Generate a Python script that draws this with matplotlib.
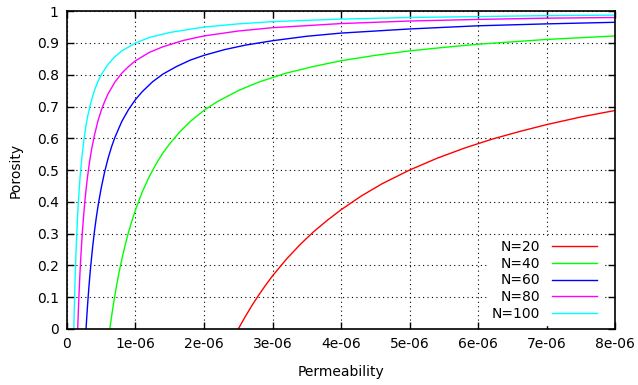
import matplotlib.pyplot as plt

# permeability samples (x1e-6) and porosity
k20 = [2.5, 2.6, 2.7, 2.8, 2.9, 3.0, 3.2, 3.4, 3.6, 3.8, 4.0, 4.3, 4.6, 5.0, 5.4, 5.8, 6.2, 6.6, 7.0, 7.5, 8.0]
p20 = [0.0, 0.038, 0.074, 0.107, 0.138, 0.167, 0.219, 0.265, 0.306, 0.342, 0.375, 0.419, 0.457,
       0.5, 0.537, 0.569, 0.597, 0.621, 0.643, 0.667, 0.6875]

k40 = [0.625, 0.64, 0.66, 0.68, 0.7, 0.73, 0.76, 0.8, 0.85, 0.9, 0.95, 1.0, 1.1, 1.2, 1.3, 1.4, 1.5,
       1.65, 1.8, 2.0, 2.2, 2.5, 2.8, 3.2, 3.6, 4.0, 4.5, 5.0, 5.5, 6.0, 7.0, 8.0]
p40 = [0.0, 0.023, 0.053, 0.081, 0.107, 0.144, 0.178, 0.219, 0.265, 0.306, 0.342, 0.375, 0.432,
       0.479, 0.519, 0.554, 0.583, 0.621, 0.653, 0.688, 0.716, 0.75, 0.777, 0.805, 0.826, 0.844,
       0.861, 0.875, 0.886, 0.896, 0.911, 0.922]

k60 = [0.278, 0.285, 0.295, 0.305, 0.32, 0.335, 0.35, 0.375, 0.4, 0.43, 0.46, 0.5, 0.55, 0.6, 0.65,
       0.7, 0.8, 0.9, 1.0, 1.1, 1.25, 1.4, 1.6, 1.8, 2.0, 2.3, 2.6, 3.0, 3.5, 4.0, 5.0, 6.0, 7.0, 8.0]
p60 = [0.0, 0.025, 0.058, 0.089, 0.132, 0.171, 0.206, 0.259, 0.306, 0.354, 0.396, 0.444, 0.495,
       0.537, 0.573, 0.603, 0.653, 0.691, 0.722, 0.747, 0.778, 0.802, 0.826, 0.846, 0.861, 0.879,
       0.893, 0.907, 0.921, 0.931, 0.944, 0.954, 0.960, 0.965]

k80 = [0.156, 0.16, 0.165, 0.17, 0.175, 0.18, 0.19, 0.2, 0.21, 0.225, 0.24, 0.26, 0.28, 0.3, 0.33,
       0.36, 0.4, 0.45, 0.5, 0.55, 0.6, 0.7, 0.8, 0.9, 1.0, 1.2, 1.4, 1.7, 2.0, 2.5, 3.0, 4.0, 5.0,
       6.0, 7.0, 8.0]
p80 = [0.0, 0.023, 0.053, 0.081, 0.107, 0.132, 0.178, 0.219, 0.256, 0.306, 0.349, 0.399, 0.442,
       0.479, 0.527, 0.566, 0.609, 0.653, 0.688, 0.716, 0.740, 0.777, 0.805, 0.826, 0.844, 0.870,
       0.888, 0.908, 0.922, 0.9375, 0.948, 0.961, 0.969, 0.974, 0.978, 0.980]

k100 = [0.1, 0.102, 0.105, 0.108, 0.112, 0.116, 0.12, 0.125, 0.13, 0.14, 0.15, 0.16, 0.175, 0.19,
        0.2, 0.22, 0.25, 0.28, 0.3, 0.35, 0.4, 0.45, 0.5, 0.6, 0.7, 0.8, 1.0, 1.2, 1.5, 2.0, 2.5,
        3.0, 4.0, 5.0, 6.0, 7.0, 8.0]
p100 = [0.0, 0.020, 0.048, 0.074, 0.107, 0.138, 0.167, 0.2, 0.231, 0.286, 0.333, 0.375, 0.429,
        0.474, 0.5, 0.545, 0.6, 0.643, 0.667, 0.714, 0.75, 0.778, 0.8, 0.833, 0.857, 0.875, 0.9,
        0.917, 0.933, 0.95, 0.96, 0.967, 0.975, 0.98, 0.983, 0.986, 0.9875]

labels = ["N=20", "N=40", "N=60", "N=80", "N=100"]
colors = ["#ff0000", "#00ff00", "#0000ff", "#ff00ff", "#00ffff"]

xticks = [0, 1e-6, 2e-6, 3e-6, 4e-6, 5e-6, 6e-6, 7e-6, 8e-6]
xticklabels = ["0", "1e-06", "2e-06", "3e-06", "4e-06", "5e-06", "6e-06", "7e-06", "8e-06"]
yticks = [0, 0.1, 0.2, 0.3, 0.4, 0.5, 0.6, 0.7, 0.8, 0.9, 1]
yticklabels = ["0", "0.1", "0.2", "0.3", "0.4", "0.5", "0.6", "0.7", "0.8", "0.9", "1"]

plt.rcParams['font.family'] = 'DejaVu Sans'
plt.rcParams['font.size'] = 10

fig = plt.figure(figsize=(6.38, 3.85), dpi=100)
ax = fig.add_axes([0.105, 0.1455, 0.859, 0.8255])

series = [(k20, p20), (k40, p40), (k60, p60), (k80, p80), (k100, p100)]
for (k, p), lab, c in zip(series, labels, colors):
    ax.plot([v * 1e-6 for v in k], p, color=c, linewidth=1, label=lab)

ax.set_xlim(0, 8e-6)
ax.set_ylim(0, 1)
ax.set_xticks(xticks)
ax.set_xticklabels(xticklabels)
ax.set_yticks(yticks)
ax.set_yticklabels(yticklabels)
ax.tick_params(direction='in', top=True, right=True, length=5, width=1, pad=6)
ax.grid(True, color='black', linestyle=(0, (1, 3)), linewidth=0.8)
for s in ax.spines.values():
    s.set_linewidth(1.2)

ax.set_xlabel("Permeability", labelpad=10)
ax.set_ylabel("Porosity", labelpad=10)

# key sits inside, lower right, with white background hiding the grid
leg = ax.legend(loc='lower right', bbox_to_anchor=(0.9745, 0.012), markerfirst=False,
                frameon=True, fancybox=False, edgecolor='white', framealpha=1,
                handlelength=3.2, labelspacing=0.2, borderaxespad=0, borderpad=0.3,
                handletextpad=0.9)
for t in leg.get_texts():
    t.set_ha('right')
leg._legend_box.align = 'right'

fig.savefig("out.png", dpi=100)
